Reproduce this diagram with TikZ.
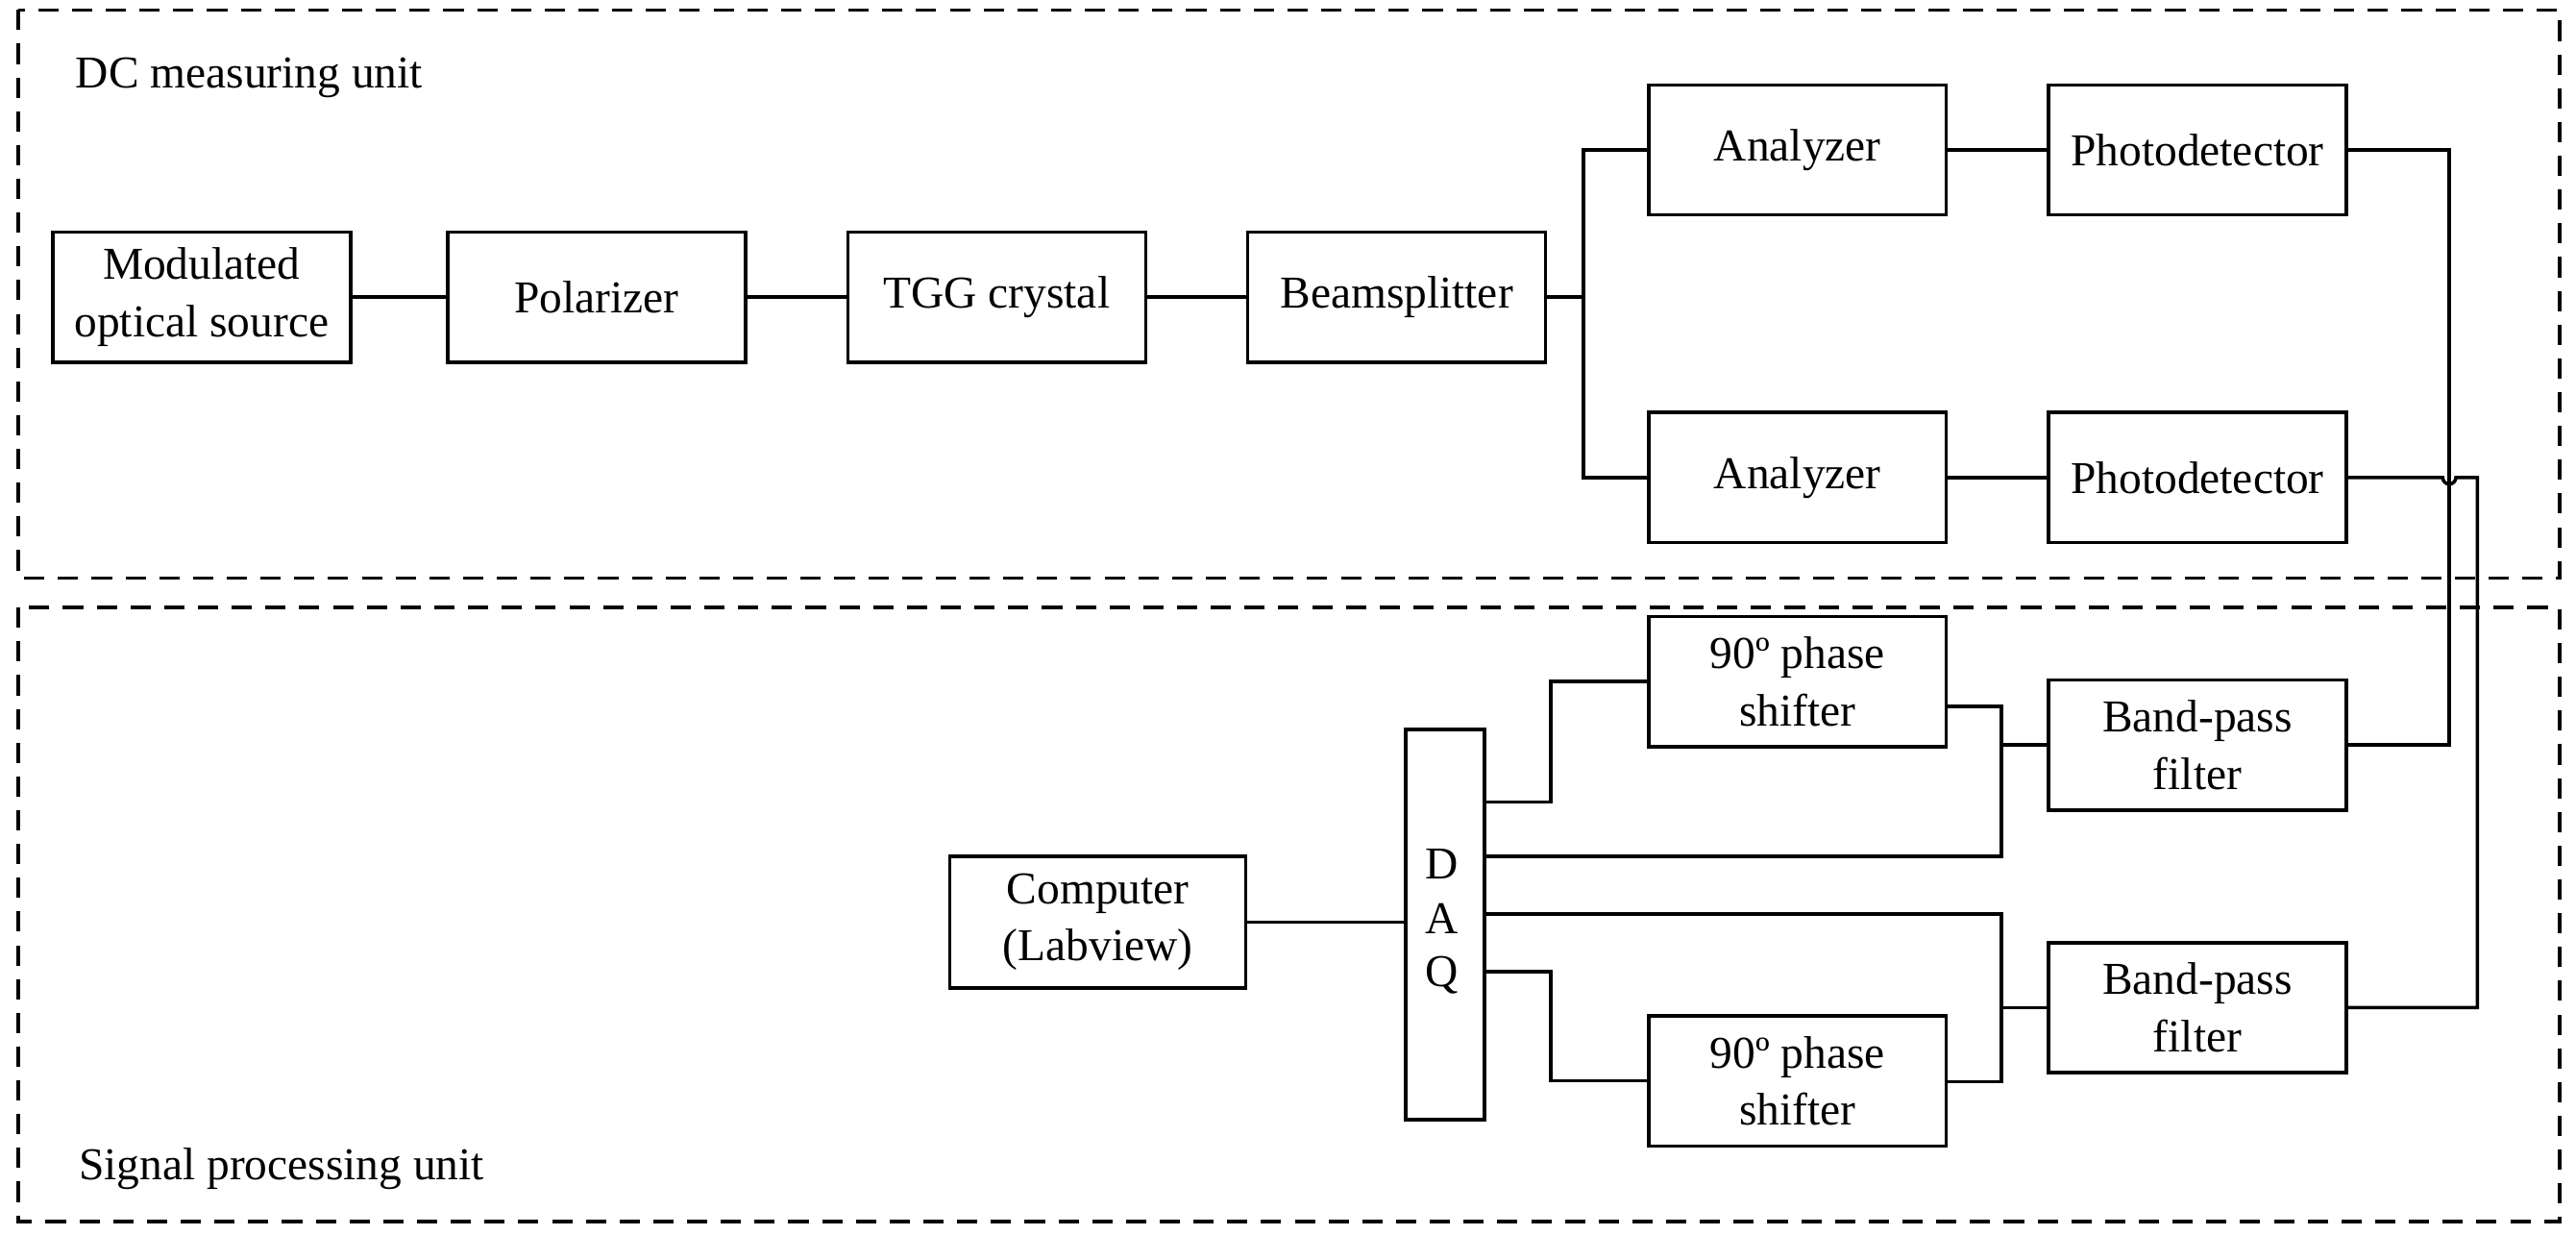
\documentclass[tikz,border=0pt]{standalone}
\usepackage{fontspec}
\setmainfont{Liberation Serif}
\begin{document}
\begin{tikzpicture}[x=0.01713cm,y=-0.01713cm,line width=1pt,
  box/.style={draw,minimum width=3.10cm,minimum height=1.353cm,align=center,font=\fontsize{13.5}{17}\selectfont,inner sep=1pt},
  lbl/.style={anchor=west,font=\fontsize{13.5}{17}\selectfont,inner sep=0pt},
  unit/.style={draw,dash pattern=on 6pt off 4pt}]
\useasboundingbox (0,0) rectangle (1565,750);
\draw[unit] (11,6) rectangle (1555,351);
\draw[unit] (11,369) rectangle (1555,742);
\node[lbl] (dcl) at (45,47) {DC measuring unit};
\node[lbl] (spl) at (47,710) {Signal processing unit};
\node[box] (src) at (122.5,180.5) {Modulated\\optical source};
\node[box] (pol) at (362.5,180.5) {Polarizer};
\node[box] (tgg) at (605.5,180.5) {TGG crystal};
\node[box] (bs) at (848.5,180.5) {Beamsplitter};
\node[box] (an1) at (1092,91) {Analyzer};
\node[box] (an2) at (1092,290) {Analyzer};
\node[box] (pd1) at (1335,91) {Photodetector};
\node[box] (pd2) at (1335,290) {Photodetector};
\node[box] (bp1) at (1335,452.5) {Band-pass\\filter};
\node[box] (bp2) at (1335,612) {Band-pass\\filter};
\node[box] (ps1) at (1092,414) {90º phase\\shifter};
\node[box] (ps2) at (1092,656.5) {90º phase\\shifter};
\node[box,minimum width=0.822cm,minimum height=4.06cm] (daq) at (878,561.5) {};
\node[font=\fontsize{13.5}{17}\selectfont] (dl) at (876,525) {D};
\node[font=\fontsize{13.5}{17}\selectfont] (al) at (876,558) {A};
\node[font=\fontsize{13.5}{17}\selectfont] (ql) at (876,592) {Q};
\node[box,minimum width=3.08cm,minimum height=1.37cm] (pc) at (667,560) {Computer\\(Labview)};
\draw (src) -- (pol);
\draw (pol) -- (tgg);
\draw (tgg) -- (bs);
\draw (bs.east) -- (962,180.5) |- (an1.west);
\draw (962,180.5) |- (an2.west);
\draw (an1) -- (pd1);
\draw (an2) -- (pd2);
\draw (pd1.east) -- (1488,91) |- (bp1.east);
\draw (pd2.east) -- (1484,290) arc[start angle=180,end angle=0,radius=4] -- (1505,290) |- (bp2.east);
\draw (pc.east) -- (daq.west |- pc.east);
\draw (daq.east |- 0,487) -- (942,487) |- (ps1.west);
\draw (ps1.east |- 0,429) -- (1216,429) |- (daq.east |- 0,520);
\draw (1216,452.5) -- (bp1.west);
\draw (daq.east |- 0,555) -- (1216,555) |- (ps2.east |- 0,657);
\draw (1216,612) -- (bp2.west);
\draw (daq.east |- 0,590) -- (942,590) |- (ps2.west);
\end{tikzpicture}
\end{document}
